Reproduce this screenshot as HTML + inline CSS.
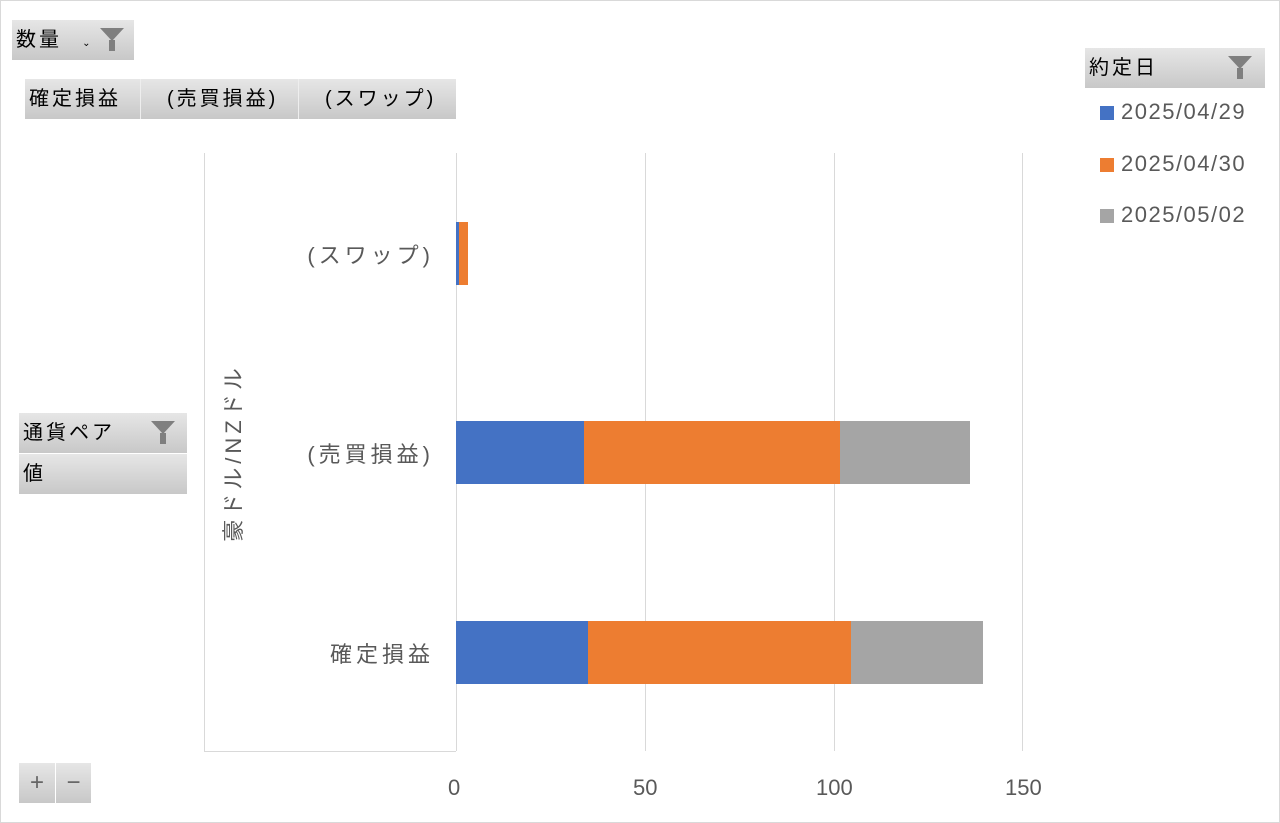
<!DOCTYPE html><html><head><meta charset="utf-8"><style>
body{margin:0;width:1280px;height:823px;background:#fff;position:relative;overflow:hidden;font-family:"Liberation Sans","Noto Sans CJK JP",sans-serif}
.frame{position:absolute;left:0;top:0;width:1278px;height:821px;border:1px solid #d9d9d9}
.btn{position:absolute;background:linear-gradient(#e6e6e6,#c8c8c8);font-size:20px;color:#000;line-height:40px;box-sizing:border-box;padding-left:4px;white-space:nowrap;letter-spacing:3px}
.a{position:absolute}
.t{position:absolute;font-size:22px;color:#595959;white-space:nowrap}
.cj{letter-spacing:4px}
.fun{position:absolute;width:0;height:0;border-left:12px solid transparent;border-right:12px solid transparent;border-top:13px solid #7f7f7f}
.fun:after{content:"";position:absolute;left:-3px;top:-1px;width:6px;height:11px;background:#7f7f7f}
</style></head><body><div class="frame"></div>
<div class="btn" style="left:12px;top:20px;width:122px;height:40px">数量 <span style="font-size:10px">&nbsp;&nbsp;⌄</span></div><div class="fun" style="left:100px;top:28px"></div>
<div class="btn" style="left:25px;top:79px;width:115px;height:40px">確定損益</div>
<div class="btn" style="left:140px;top:79px;width:158px;height:40px;border-left:1px solid #eee;padding-left:26px">(売買損益)</div>
<div class="btn" style="left:298px;top:79px;width:158px;height:40px;border-left:1px solid #eee;padding-left:26px">(スワップ)</div>
<div class="btn" style="left:1085px;top:48px;width:180px;height:40px">約定日</div><div class="fun" style="left:1228px;top:56px"></div>
<div class="btn" style="left:19px;top:413px;width:168px;height:40px">通貨ペア</div><div class="fun" style="left:151px;top:421px"></div>
<div class="btn" style="left:19px;top:454px;width:168px;height:40px">値</div>
<div class="btn" style="left:19px;top:763px;width:36px;height:40px;text-align:center;padding:0;font-size:24px;color:#666;letter-spacing:0">+</div>
<div class="btn" style="left:56px;top:763px;width:35px;height:40px;text-align:center;padding:0;font-size:24px;color:#666;letter-spacing:0">−</div>
<div class="a" style="left:204px;top:153px;width:1px;height:598px;background:#d9d9d9"></div>
<div class="a" style="left:204px;top:751px;width:252px;height:1px;background:#d9d9d9"></div>
<div class="a" style="left:456px;top:153px;width:1px;height:598px;background:#d9d9d9"></div>
<div class="a" style="left:645px;top:153px;width:1px;height:598px;background:#d9d9d9"></div>
<div class="a" style="left:834px;top:153px;width:1px;height:598px;background:#d9d9d9"></div>
<div class="a" style="left:1022px;top:153px;width:1px;height:598px;background:#d9d9d9"></div>
<div class="a" style="left:456px;top:222px;width:3px;height:63px;background:#4472c4"></div>
<div class="a" style="left:459px;top:222px;width:9px;height:63px;background:#ed7d31"></div>
<div class="a" style="left:456px;top:421px;width:128px;height:63px;background:#4472c4"></div>
<div class="a" style="left:584px;top:421px;width:256px;height:63px;background:#ed7d31"></div>
<div class="a" style="left:840px;top:421px;width:130px;height:63px;background:#a5a5a5"></div>
<div class="a" style="left:456px;top:621px;width:132px;height:63px;background:#4472c4"></div>
<div class="a" style="left:588px;top:621px;width:263px;height:63px;background:#ed7d31"></div>
<div class="a" style="left:851px;top:621px;width:132px;height:63px;background:#a5a5a5"></div>
<div class="t cj" style="right:846px;top:238px">(スワップ)</div>
<div class="t cj" style="right:846px;top:437px">(売買損益)</div>
<div class="t cj" style="right:846px;top:637px">確定損益</div>
<div class="t cj" style="left:232px;top:453px;transform:translate(-50%,-50%) rotate(-90deg)">豪ドル/NZドル</div>
<div class="t" style="left:448px;top:775px">0</div>
<div class="t" style="left:633px;top:775px">50</div>
<div class="t" style="left:816px;top:775px">100</div>
<div class="t" style="left:1005px;top:775px">150</div>
<div class="a" style="left:1100px;top:106px;width:14px;height:14px;background:#4472c4"></div><div class="t" style="left:1121px;top:99px;letter-spacing:1.5px">2025/04/29</div>
<div class="a" style="left:1100px;top:158px;width:14px;height:14px;background:#ed7d31"></div><div class="t" style="left:1121px;top:151px;letter-spacing:1.5px">2025/04/30</div>
<div class="a" style="left:1100px;top:209px;width:14px;height:14px;background:#a5a5a5"></div><div class="t" style="left:1121px;top:202px;letter-spacing:1.5px">2025/05/02</div>
</body></html>
